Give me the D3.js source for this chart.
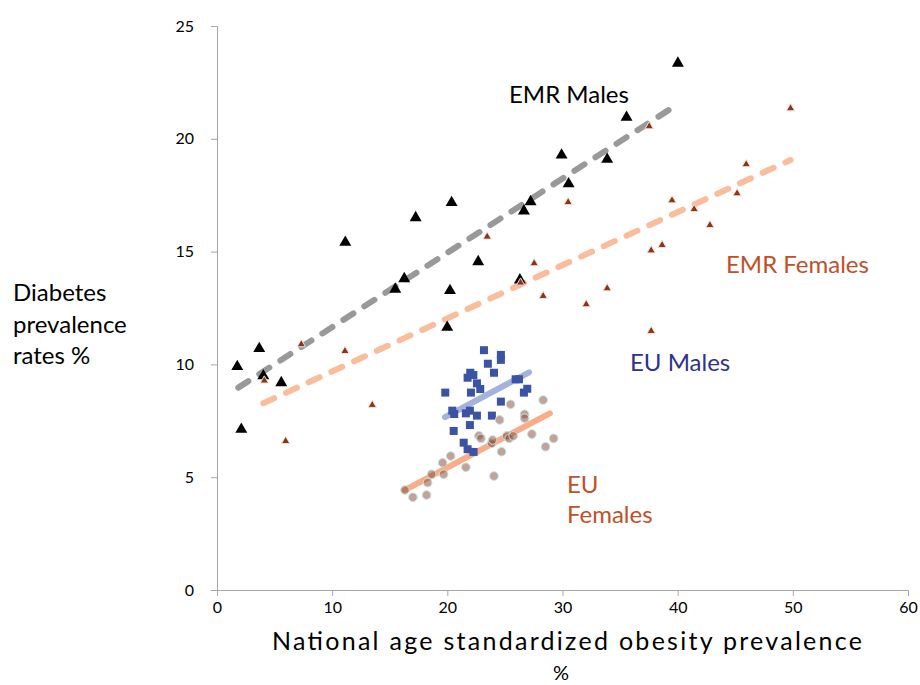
<!DOCTYPE html>
<html>
<head>
<meta charset="utf-8">
<script src="https://cdn.jsdelivr.net/npm/d3@7"></script>
<style>
  body { margin: 0; background: #fff; }
  text { font-family: Lato, "Open Sans", sans-serif; }
</style>
</head>
<body>
<div id="chart"></div>
<script>
// obesity vs diabetes prevalence, EMR and EU, by sex

const xTicks = [0, 10, 20, 30, 40, 50, 60];
const yTicks = [0, 5, 10, 15, 20, 25];

// EMR males (black triangles) [obesity %, diabetes %]
const emrMales = [
  [1.76, 9.90], [2.11, 7.12], [3.67, 10.70], [4.02, 9.49], [5.58, 9.19],
  [11.14, 15.41], [15.48, 13.33], [16.26, 13.80], [17.25, 16.50], [19.99, 11.64],
  [20.23, 13.27], [20.37, 17.17], [22.68, 14.55], [26.30, 13.74], [26.65, 16.80],
  [27.23, 17.21], [29.92, 19.28], [30.53, 18.00], [33.88, 19.09], [35.56, 20.95],
  [40.02, 23.35]
];

// EMR females (brown triangles)
const emrFemales = [
  [4.11, 9.28], [5.96, 6.60], [7.32, 10.89], [11.11, 10.59], [13.48, 8.20],
  [23.46, 15.66], [26.36, 13.62], [27.54, 14.48], [28.32, 13.03], [30.49, 17.19],
  [32.06, 12.66], [33.88, 13.37], [37.53, 20.55], [37.70, 15.05], [38.65, 15.29],
  [37.70, 11.48], [39.51, 17.27], [41.43, 16.88], [42.80, 16.17], [45.16, 17.58],
  [45.95, 18.87], [49.80, 21.35]
];

// EU males (blue squares)
const euMales = [
  [23.18, 10.63], [24.65, 10.42], [24.65, 10.20], [23.52, 10.03], [24.05, 9.63],
  [21.99, 9.63], [22.26, 9.53], [21.76, 9.41], [22.57, 9.16], [22.86, 8.91],
  [19.82, 8.75], [22.05, 8.75], [25.93, 9.34], [26.22, 9.34], [26.94, 8.92],
  [26.65, 8.75], [24.65, 8.35], [20.43, 7.95], [20.60, 7.80], [21.61, 7.83],
  [21.96, 7.95], [22.57, 7.73], [23.87, 7.73], [21.96, 7.31], [20.55, 7.05],
  [21.42, 6.53], [21.76, 6.24], [22.28, 6.12]
];

// EU females (circles)
const euFemales = [
  [16.32, 4.43], [17.01, 4.11], [18.20, 4.21], [18.29, 4.76], [18.64, 5.13],
  [19.68, 5.13], [19.59, 5.64], [20.29, 5.94], [21.61, 5.44], [22.74, 6.84],
  [22.92, 6.72], [23.84, 6.50], [23.93, 6.65], [24.05, 5.05], [24.54, 7.54],
  [24.71, 6.13], [25.15, 6.83], [25.37, 6.72], [25.72, 6.83], [25.49, 8.23],
  [26.71, 7.79], [26.71, 7.61], [27.34, 6.91], [28.32, 8.42], [28.53, 6.35],
  [29.23, 6.72]
];

// trend line end points
const emrMalesTrend = [[1.85, 8.97], [39.3, 21.3]];
const emrFemalesTrend = [[4.02, 8.28], [49.8, 19.06]];
const euMalesTrend = [[19.8, 7.66], [27.1, 9.65]];
const euFemalesTrend = [[16.3, 4.43], [28.9, 7.83]];

const width = 920, height = 685;
const margin = {top: 26, right: 12, bottom: 95, left: 217};

const svg = d3.select("#chart").append("svg")
  .attr("width", width)
  .attr("height", height);

const x = d3.scaleLinear().domain([0, 60]).range([margin.left, 908]);
const y = d3.scaleLinear().domain([0, 25]).range([590, margin.top]);

const axisColor = "#a6a6a6";

const xAxis = svg.append("g")
  .attr("transform", `translate(0,${y(0)})`)
  .call(d3.axisBottom(x).tickValues(xTicks).tickSizeOuter(0).tickSize(6).tickPadding(6));
const yAxis = svg.append("g")
  .attr("transform", `translate(${x(0)},0)`)
  .call(d3.axisLeft(y).tickValues(yTicks).tickSizeOuter(0).tickSize(6).tickPadding(17));

[xAxis, yAxis].forEach(g => {
  g.select(".domain").attr("stroke", axisColor);
  g.selectAll(".tick line").attr("stroke", axisColor);
  g.selectAll(".tick text")
    .attr("fill", "#000")
    .style("font-size", "16px")
    .style("font-family", "Lato, sans-serif");
});

const line = d3.line().x(d => x(d[0])).y(d => y(d[1]));

// trend lines
svg.append("path").datum(emrMalesTrend)
  .attr("d", line).attr("fill", "none")
  .attr("stroke", "#999999").attr("stroke-width", 6)
  .attr("stroke-linecap", "round").attr("stroke-dasharray", "12 13");
svg.append("path").datum(emrFemalesTrend)
  .attr("d", line).attr("fill", "none")
  .attr("stroke", "#fbbc9c").attr("stroke-width", 6)
  .attr("stroke-linecap", "round").attr("stroke-dasharray", "12 13");
svg.append("path").datum(euMalesTrend)
  .attr("d", line).attr("fill", "none")
  .attr("stroke", "#a4b2dc").attr("stroke-width", 6)
  .attr("stroke-linecap", "round");
svg.append("path").datum(euFemalesTrend)
  .attr("d", line).attr("fill", "none")
  .attr("stroke", "#f9ac88").attr("stroke-width", 6)
  .attr("stroke-linecap", "round");

const tri = d3.symbol().type(d3.symbolTriangle);

svg.append("g").selectAll("path")
  .data(emrMales).join("path")
  .attr("transform", d => `translate(${x(d[0])},${y(d[1])})`)
  .attr("d", tri.size(62)())
  .attr("fill", "#000");

svg.append("g").selectAll("path")
  .data(emrFemales).join("path")
  .attr("transform", d => `translate(${x(d[0])},${y(d[1])})`)
  .attr("d", tri.size(30)())
  .attr("fill", "#8a3518")
  .attr("stroke", "#f3e1d8").attr("stroke-width", 1);

svg.append("g").selectAll("rect")
  .data(euMales).join("rect")
  .attr("x", d => x(d[0]) - 4)
  .attr("y", d => y(d[1]) - 4)
  .attr("width", 8).attr("height", 8)
  .attr("fill", "#3a53a4");

svg.append("g").selectAll("circle")
  .data(euFemales).join("circle")
  .attr("cx", d => x(d[0]))
  .attr("cy", d => y(d[1]))
  .attr("r", 4.3)
  .attr("fill", "#8a4634").attr("fill-opacity", 0.5)
  .attr("stroke", "#bfe3e3").attr("stroke-width", 1);

// series labels
const labels = [
  {text: ["EMR Males"], x: 509, y: 103, color: "#000"},
  {text: ["EMR Females"], x: 726, y: 273, color: "#c0502a"},
  {text: ["EU Males"], x: 630, y: 371, color: "#2e3192"},
  {text: ["EU", "Females"], x: 567, y: 493, color: "#c0502a"}
];
labels.forEach(l => {
  const t = svg.append("text")
    .attr("x", l.x).attr("y", l.y)
    .attr("fill", l.color)
    .style("font-size", "24px");
  l.text.forEach((s, i) => {
    t.append("tspan").attr("x", l.x).attr("dy", i ? 30 : 0).text(s);
  });
});

// axis titles
const yTitle = svg.append("text")
  .attr("x", 13).attr("y", 301)
  .attr("fill", "#000")
  .style("font-size", "24px");
["Diabetes", "prevalence", "rates %"].forEach((s, i) => {
  yTitle.append("tspan").attr("x", 13).attr("dy", i ? 31.5 : 0).text(s);
});

svg.append("text")
  .attr("x", 567).attr("y", 650)
  .attr("text-anchor", "middle")
  .attr("fill", "#000")
  .attr("textLength", 590)
  .attr("lengthAdjust", "spacing")
  .style("font-size", "25px")
  .text("National age standardized obesity prevalence");
svg.append("text")
  .attr("x", 561).attr("y", 680)
  .attr("text-anchor", "middle")
  .attr("fill", "#000")
  .style("font-size", "20px")
  .text("%");
</script>
</body>
</html>
